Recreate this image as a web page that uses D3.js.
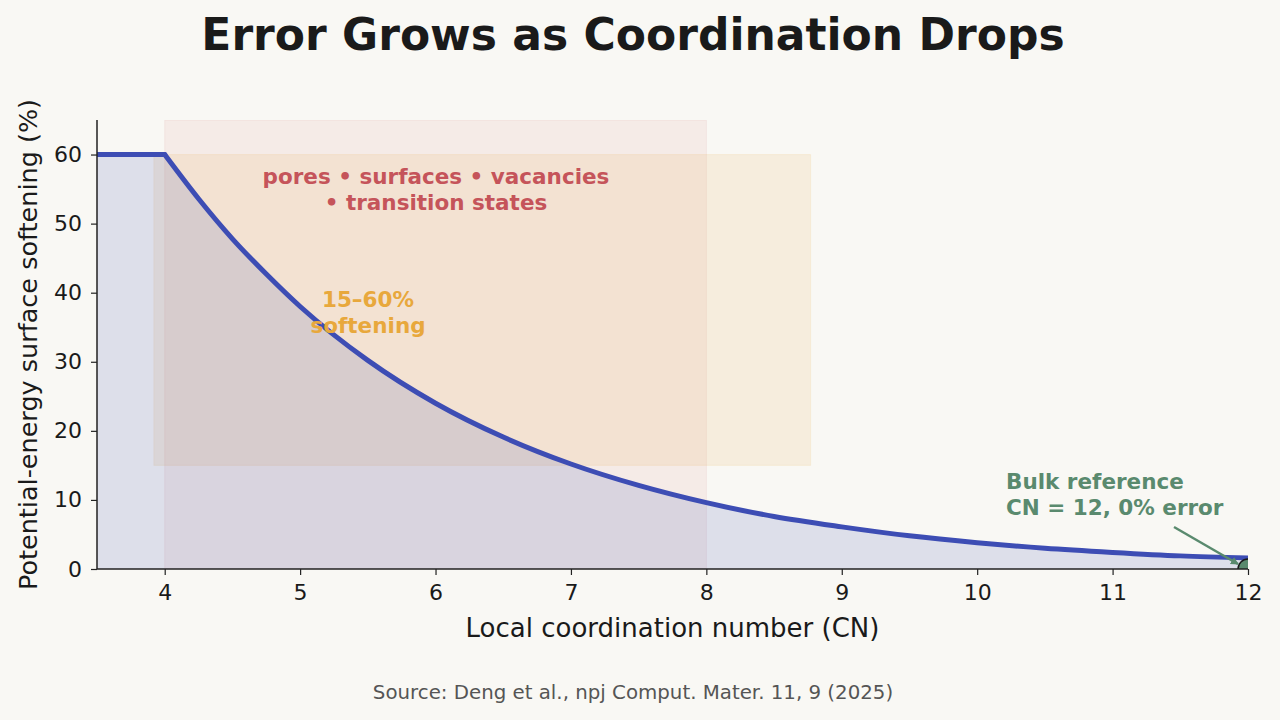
<!DOCTYPE html>
<html>
<head>
<meta charset="utf-8">
<script src="https://cdn.jsdelivr.net/npm/d3@7"></script>
<style>
  body { margin: 0; background: #f9f8f4; }
  text { font-family: "DejaVu Sans", sans-serif; }
</style>
</head>
<body>
<div id="svg"></div>
<script>
// values
var plateauCN = [3.5, 4];
var plateauErr = [60, 60];
var decayCN = [4, 4.25, 4.5, 4.75, 5, 5.5, 6, 6.5, 7, 7.5, 8, 8.5, 9, 9.5, 10, 10.5, 11, 11.5, 12];
var decayErr = [60, 53.6, 47.8, 42.7, 38.0, 30.2, 24.0, 19.1, 15.2, 12.1, 9.6, 7.6, 6.1, 4.8, 3.8, 3.0, 2.4, 1.9, 1.6];
var xTicks = [4, 5, 6, 7, 8, 9, 10, 11, 12];
var yTicks = [0, 10, 20, 30, 40, 50, 60];
var defectSpan = [4, 8];            // pink band, full height
var softBand = {x: [3.92, 8.77], y: [15, 60]};
var bulkPoint = {cn: 12, err: 0};

var margin = {top: 120, right: 32, bottom: 151, left: 97},
    width = 1280 - margin.left - margin.right,
    height = 720 - margin.top - margin.bottom;

var root = d3.select("#svg")
  .append("svg")
    .attr("width", 1280)
    .attr("height", 720);

root.append("rect")
  .attr("width", 1280).attr("height", 720)
  .attr("fill", "#f9f8f4");

var defs = root.append("defs");
defs.append("clipPath").attr("id", "plotclip")
  .append("rect").attr("width", width).attr("height", height);
defs.append("marker")
  .attr("id", "arrow")
  .attr("markerWidth", 10)
  .attr("markerHeight", 10)
  .attr("refX", 7)
  .attr("refY", 4)
  .attr("orient", "auto")
  .attr("markerUnits", "userSpaceOnUse")
  .append("path")
  .attr("d", "M0,0 L8,4 L0,8 z")
  .style("fill", "#5a8a6e");

var svg = root.append("g")
  .attr("transform", "translate(" + margin.left + "," + margin.top + ")");

var x = d3.scaleLinear()
  .domain([3.5, 12])
  .range([0, width]);

var y = d3.scaleLinear()
  .domain([0, 65])
  .range([height, 0]);

var plot = svg.append("g").attr("clip-path", "url(#plotclip)");

// shaded bands
plot.append("rect")
  .attr("x", x(defectSpan[0]))
  .attr("y", y(65))
  .attr("width", x(defectSpan[1]) - x(defectSpan[0]))
  .attr("height", y(0) - y(65))
  .style("fill", "#c8555a")
  .style("fill-opacity", 0.08)
  .style("stroke", "#c8555a")
  .style("stroke-opacity", 0.08);

plot.append("rect")
  .attr("x", x(softBand.x[0]))
  .attr("y", y(softBand.y[1]))
  .attr("width", x(softBand.x[1]) - x(softBand.x[0]))
  .attr("height", y(softBand.y[0]) - y(softBand.y[1]))
  .style("fill", "#e8a838")
  .style("fill-opacity", 0.12)
  .style("stroke", "#e8a838")
  .style("stroke-opacity", 0.1);

var plateau = plateauCN.map(function (d, i) { return [d, plateauErr[i]]; });
var decay = decayCN.map(function (d, i) { return [d, decayErr[i]]; });

var area = d3.area()
  .x(function (d) { return x(d[0]); })
  .y0(y(0))
  .y1(function (d) { return y(d[1]); });

plot.append("path")
  .attr("d", area.curve(d3.curveLinear)(plateau))
  .style("fill", "#3f4fb5")
  .style("fill-opacity", 0.15);
plot.append("path")
  .attr("d", area.curve(d3.curveMonotoneX)(decay))
  .style("fill", "#3f4fb5")
  .style("fill-opacity", 0.15);

var line = d3.line()
  .x(function (d) { return x(d[0]); })
  .y(function (d) { return y(d[1]); });

plot.append("path")
  .attr("d", line.curve(d3.curveLinear)(plateau))
  .style("fill", "none")
  .style("stroke", "#3d4db4")
  .style("stroke-width", 5)
  .style("stroke-linecap", "round");
plot.append("path")
  .attr("d", line.curve(d3.curveMonotoneX)(decay))
  .style("fill", "none")
  .style("stroke", "#3d4db4")
  .style("stroke-width", 5)
  .style("stroke-linecap", "round")
  .style("stroke-linejoin", "round");

// bulk reference marker
plot.append("circle")
  .attr("cx", x(bulkPoint.cn))
  .attr("cy", y(bulkPoint.err))
  .attr("r", 10)
  .style("fill", "#5a8a6e")
  .style("stroke", "#1a1a1a")
  .style("stroke-width", 1.5);

// axes
var xAxis = svg.append("g")
  .attr("transform", "translate(0," + height + ")")
  .call(d3.axisBottom(x).tickValues(xTicks).tickSize(6).tickPadding(9).tickFormat(d3.format("d")));
var yAxis = svg.append("g")
  .call(d3.axisLeft(y).tickValues(yTicks).tickSize(6).tickPadding(9).tickFormat(d3.format("d")));

[xAxis, yAxis].forEach(function (a) {
  a.select(".domain").style("stroke", "#222").style("stroke-width", 1.5);
  a.selectAll(".tick line").style("stroke", "#222").style("stroke-width", 1.2);
  a.selectAll(".tick text")
    .style("font-family", "DejaVu Sans, sans-serif")
    .style("font-size", "22px")
    .style("fill", "#1a1a1a");
});
// strip the axisLeft/axisBottom outer ticks
xAxis.select(".domain").attr("d", "M0,0H" + width);
yAxis.select(".domain").attr("d", "M0," + height + "V0");

// axis labels
svg.append("text")
  .attr("x", width / 2)
  .attr("y", height + 68)
  .attr("text-anchor", "middle")
  .style("font-size", "26px")
  .style("fill", "#1a1a1a")
  .text("Local coordination number (CN)");

svg.append("text")
  .attr("transform", "translate(-60," + (height / 2) + ") rotate(-90)")
  .attr("text-anchor", "middle")
  .style("font-size", "25.5px")
  .style("fill", "#1a1a1a")
  .text("Potential-energy surface softening (%)");

// annotations
function multiline(g, lines, px, py, anchor, color) {
  var t = g.append("text")
    .attr("text-anchor", anchor)
    .style("font-size", "21.5px")
    .style("font-weight", "bold")
    .style("fill", color);
  lines.forEach(function (s, i) {
    t.append("tspan").attr("x", px).attr("y", py + i * 26).text(s);
  });
}

multiline(svg, ["pores \u2022 surfaces \u2022 vacancies", "\u2022 transition states"],
  436 - margin.left, 184 - margin.top, "middle", "#c5545a");
multiline(svg, ["15\u201360%", "softening"],
  368 - margin.left, 307 - margin.top, "middle", "#e8a83c");
multiline(svg, ["Bulk reference", "CN = 12, 0% error"],
  1006 - margin.left, 489 - margin.top, "start", "#5a8a6e");

svg.append("line")
  .attr("x1", 1174 - margin.left)
  .attr("y1", 527 - margin.top)
  .attr("x2", x(bulkPoint.cn) - 10)
  .attr("y2", y(bulkPoint.err) - 5)
  .style("stroke", "#5a8a6e")
  .style("stroke-width", 2.5)
  .attr("marker-end", "url(#arrow)");

// title and source
root.append("text")
  .attr("x", 633)
  .attr("y", 50)
  .attr("text-anchor", "middle")
  .style("font-size", "44px")
  .style("font-weight", "bold")
  .style("fill", "#1a1a1a")
  .text("Error Grows as Coordination Drops");

root.append("text")
  .attr("x", 633)
  .attr("y", 699)
  .attr("text-anchor", "middle")
  .style("font-size", "19.8px")
  .style("fill", "#555")
  .text("Source: Deng et al., npj Comput. Mater. 11, 9 (2025)");
</script>
</body>
</html>
